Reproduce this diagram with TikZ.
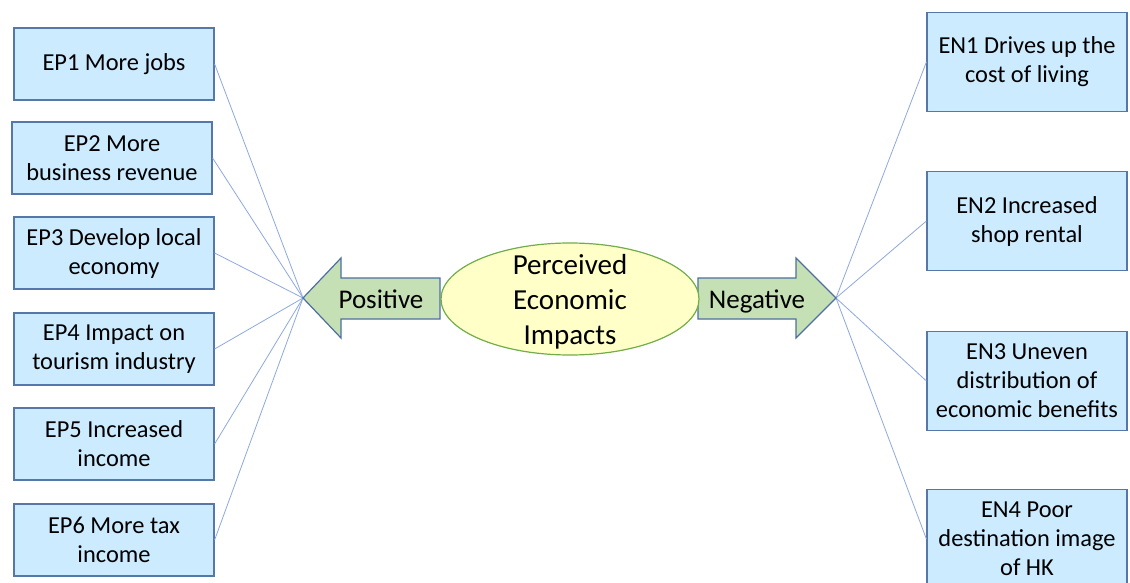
\documentclass[tikz,border=0pt]{standalone}
\usepackage{fontspec}
\usetikzlibrary{shapes.geometric}
\setmainfont{Carlito}
\definecolor{boxfill}{HTML}{CCEBFF}
\definecolor{boxline}{HTML}{5577AA}
\definecolor{linkline}{HTML}{8FA9DC}
\definecolor{arrowfill}{HTML}{C5E0B4}
\definecolor{arrowline}{HTML}{4E6FA3}
\definecolor{ovalfill}{HTML}{FFFFC8}
\definecolor{ovalline}{HTML}{72AD4A}
\begin{document}
\begin{tikzpicture}[x=1pt,y=-1pt,
  itembox/.style={draw=boxline,fill=boxfill,line width=1.2pt,align=center,
    minimum width=200pt,inner sep=2pt,font=\fontsize{24.4}{29}\selectfont},
  posbox/.style={itembox,minimum height=72pt},
  negbox/.style={itembox,minimum height=99pt},
  link/.style={draw=linkline,line width=0.8pt},
  bigarrow/.style={draw=arrowline,fill=arrowfill,line width=1.2pt,line join=miter},
  arrowtext/.style={font=\fontsize{27}{30}\selectfont,inner sep=0pt,anchor=base}]
\useasboundingbox (0,0) rectangle (1130,583);
\fill[white] (0,0) rectangle (1130,583);

% tips of the two big arrows, where the connectors meet
\coordinate (posTip) at (303,298);
\coordinate (negTip) at (836,298);

% positive impacts
\node[posbox] (ep1) at (114,64)  {EP1 More jobs};
\node[posbox] (ep2) at (112,158) {EP2 More\\business revenue};
\node[posbox] (ep3) at (114,253) {EP3 Develop local\\economy};
\node[posbox] (ep4) at (114,349) {EP4 Impact on\\tourism industry};
\node[posbox] (ep5) at (114,444) {EP5 Increased\\income};
\node[posbox] (ep6) at (114,540) {EP6 More tax\\income};

% negative impacts
\node[negbox] (en1) at (1027,62)  {EN1 Drives up the\\cost of living};
\node[negbox] (en2) at (1027,221) {EN2 Increased\\shop rental};
\node[negbox] (en3) at (1027,381) {EN3 Uneven\\distribution of\\economic benefits};
\node[negbox] (en4) at (1027,539) {EN4 Poor\\destination image\\of HK};

% connectors
\foreach \n in {ep1,ep2,ep3,ep4,ep5,ep6}
  \draw[link] (\n.east) -- (posTip);
\foreach \n in {en1,en2,en3,en4}
  \draw[link] (\n.west) -- (negTip);

% left and right block arrows
\draw[bigarrow] (440,278) -- (341,278) -- (341,258) -- (posTip) -- (341,338)
  -- (341,319) -- (440,319) -- cycle;
\draw[bigarrow] (698,278) -- (796,278) -- (796,258) -- (negTip) -- (796,338)
  -- (796,319) -- (698,319) -- cycle;
\node[arrowtext] (pos) at (381,308) {Positive};
\node[arrowtext] (neg) at (757,308) {Negative};

% central oval
\node[draw=ovalline,fill=ovalfill,line width=1.2pt,ellipse,minimum width=258pt,
  minimum height=112pt,inner sep=0pt] (core) at (570,299) {};
\node[align=center,font=\fontsize{29}{35}\selectfont,inner sep=0pt]
  (coretext) at (570,302) {Perceived\\Economic\\Impacts};
\end{tikzpicture}
\end{document}
